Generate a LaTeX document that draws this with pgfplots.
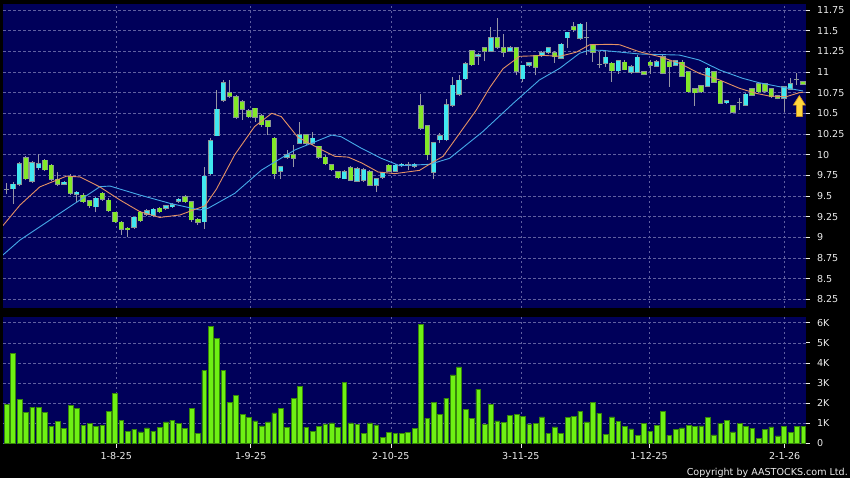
\documentclass[border=0pt]{standalone}
\usepackage{pgfplots}
\pgfplotsset{compat=1.18}
\usepackage{pgfplotstable}
\usepackage{fontspec}
\setmainfont{DejaVu Sans}

\definecolor{panelbg}{RGB}{0,0,90}
\definecolor{gridc}{RGB}{95,95,160}
\definecolor{upc}{RGB}{64,232,240}
\definecolor{dnc}{RGB}{130,232,40}
\definecolor{edgec}{RGB}{140,150,150}
\definecolor{wickc}{RGB}{150,150,165}
\definecolor{volc}{RGB}{110,240,20}
\definecolor{voledge}{RGB}{55,135,10}
\definecolor{maorange}{RGB}{228,145,100}
\definecolor{mablue}{RGB}{70,170,232}
\definecolor{labelc}{RGB}{235,235,235}
\definecolor{arrowy}{RGB}{255,215,60}
\definecolor{arrowo}{RGB}{215,150,30}

% daily candles: index, open, high, low, close
\pgfplotstableread{
i o h l c
0 9.58 9.66 9.52 9.58
1 9.59 9.67 9.40 9.64
2 9.64 9.91 9.62 9.89
3 9.96 9.98 9.69 9.71
4 9.68 9.92 9.66 9.90
5 9.84 10.01 9.82 9.89
6 9.93 9.95 9.80 9.82
7 9.87 9.89 9.68 9.70
8 9.70 9.79 9.62 9.64
9 9.64 9.68 9.63 9.665
10 9.74 9.76 9.51 9.53
11 9.52 9.56 9.43 9.545
12 9.51 9.53 9.41 9.43
13 9.44 9.45 9.36 9.38
14 9.37 9.49 9.30 9.47
15 9.53 9.55 9.44 9.46
16 9.45 9.47 9.30 9.32
17 9.30 9.31 9.17 9.19
18 9.18 9.20 9.03 9.10
19 9.11 9.12 9.00 9.09
20 9.12 9.25 9.10 9.24
21 9.30 9.32 9.18 9.20
22 9.28 9.34 9.26 9.32
23 9.26 9.35 9.24 9.34
24 9.35 9.37 9.29 9.31
25 9.35 9.39 9.33 9.38
26 9.37 9.41 9.36 9.39
27 9.435 9.48 9.42 9.46
28 9.49 9.51 9.41 9.43
29 9.43 9.44 9.19 9.21
30 9.22 9.23 9.15 9.18
31 9.19 9.85 9.10 9.74
32 9.77 10.20 9.75 10.165
33 10.23 10.78 10.22 10.55
34 10.66 10.90 10.64 10.87
35 10.75 10.90 10.69 10.71
36 10.70 10.72 10.43 10.45
37 10.64 10.66 10.42 10.55
38 10.53 10.55 10.44 10.46
39 10.56 10.57 10.40 10.45
40 10.47 10.49 10.34 10.36
41 10.41 10.42 10.24 10.34
42 10.20 10.21 9.71 9.77
43 9.80 9.86 9.71 9.85
44 9.97 10.06 9.95 10.00
45 10.00 10.12 9.85 9.955
46 10.14 10.40 10.13 10.24
47 10.24 10.25 10.12 10.14
48 10.14 10.28 10.12 10.20
49 10.10 10.11 9.95 9.97
50 9.97 9.99 9.87 9.89
51 9.88 9.89 9.80 9.82
52 9.79 9.80 9.70 9.72
53 9.71 9.81 9.70 9.79
54 9.84 9.86 9.68 9.69
55 9.68 9.85 9.67 9.83
56 9.69 9.84 9.67 9.82
57 9.79 9.81 9.62 9.63
58 9.63 9.72 9.55 9.71
59 9.73 9.79 9.71 9.78
60 9.87 9.89 9.79 9.80
61 9.80 9.89 9.79 9.87
62 9.865 9.90 9.85 9.885
63 9.874 9.914 9.814 9.874
64 9.86 9.90 9.84 9.883
65 10.59 10.73 10.30 10.32
66 10.35 10.36 9.935 10.00
67 9.79 10.15 9.71 10.14
68 10.18 10.26 10.14 10.23
69 10.18 10.67 10.16 10.60
70 10.60 10.94 10.58 10.84
71 10.73 10.96 10.71 10.90
72 10.92 11.12 10.90 11.10
73 11.26 11.27 11.07 11.09
74 11.19 11.23 11.09 11.21
75 11.29 11.30 11.13 11.25
76 11.25 11.55 11.24 11.415
77 11.415 11.65 11.28 11.30
78 11.29 11.46 11.185 11.24
79 11.254 11.31 11.24 11.294
80 11.29 11.30 10.96 11.01
81 10.92 11.09 10.88 11.08
82 11.08 11.12 11.06 11.11
83 11.20 11.21 10.96 11.06
84 11.20 11.25 11.18 11.23
85 11.24 11.30 11.22 11.29
86 11.233 11.25 11.11 11.185
87 11.17 11.35 11.16 11.335
88 11.415 11.49 11.29 11.48
89 11.55 11.60 11.49 11.51
90 11.41 11.59 11.39 11.58
91 11.415 11.60 11.21 11.415
92 11.33 11.34 11.12 11.24
93 11.093 11.245 11.045 11.093
94 11.105 11.27 11.06 11.18
95 11.105 11.12 10.88 11.015
96 11.015 11.15 10.98 11.137
97 11.12 11.14 11.02 11.03
98 11.00 11.08 10.98 11.06
99 11.00 11.205 10.99 11.18
100 11.00 11.01 10.96 10.97
101 11.12 11.14 10.98 11.08
102 11.072 11.14 11.06 11.124
103 11.185 11.20 10.97 10.984
104 11.124 11.14 10.82 11.064
105 11.084 11.15 11.07 11.137
106 11.12 11.14 10.94 10.95
107 11.00 11.01 10.75 10.76
108 10.80 10.81 10.59 10.75
109 10.83 10.84 10.75 10.76
110 10.83 11.064 10.82 11.045
111 11.00 11.01 10.87 10.88
112 10.89 10.90 10.61 10.62
113 10.628 10.66 10.61 10.649
114 10.59 10.60 10.50 10.51
115 10.628 10.681 10.54 10.628
116 10.60 10.74 10.59 10.73
117 10.80 10.81 10.71 10.72
118 10.855 10.87 10.75 10.76
119 10.86 10.87 10.75 10.765
120 10.80 10.81 10.69 10.70
121 10.71 10.72 10.67 10.68
122 10.68 10.83 10.52 10.82
123 10.79 10.924 10.78 10.855
124 10.911 10.984 10.842 10.911
125 10.88 10.89 10.84 10.85
}\candles

% turnover, thousands
\pgfplotstableread{
i v
0 1.92
1 4.47
2 2.2
3 1.53
4 1.8
5 1.8
6 1.53
7 0.83
8 1.08
9 0.73
10 1.87
11 1.72
12 0.9
13 1.0
14 0.85
15 0.88
16 1.57
17 2.47
18 1.13
19 0.6
20 0.7
21 0.57
22 0.77
23 0.6
24 0.78
25 1.07
26 1.15
27 0.98
28 0.73
29 1.72
30 0.5
31 3.62
32 5.8
33 5.22
34 3.62
35 2.03
36 2.38
37 1.45
38 1.3
39 1.12
40 0.87
41 1.07
42 1.52
43 1.75
44 0.78
45 2.25
46 2.83
47 0.8
48 0.58
49 0.85
50 0.97
51 1.02
52 0.78
53 3.03
54 1.02
55 0.95
56 0.5
57 1.02
58 0.92
59 0.3
60 0.55
61 0.48
62 0.5
63 0.55
64 0.75
65 5.9
66 1.25
67 2.05
68 1.45
69 2.25
70 3.4
71 3.8
72 1.7
73 1.25
74 2.7
75 0.95
76 1.95
77 1.12
78 1.03
79 1.4
80 1.43
81 1.33
82 0.97
83 1.0
84 1.32
85 0.5
86 0.82
87 0.48
88 1.3
89 1.33
90 1.6
91 1.07
92 2.02
93 1.5
94 0.43
95 1.32
96 1.1
97 0.83
98 0.72
99 0.4
100 0.98
101 0.6
102 0.88
103 1.58
104 0.4
105 0.68
106 0.77
107 0.9
108 0.85
109 0.87
110 1.28
111 0.42
112 1.0
113 1.13
114 0.57
115 1.0
116 0.85
117 0.75
118 0.23
119 0.68
120 0.82
121 0.37
122 0.85
123 0.53
124 0.85
125 0.85
}\volumes

% 10-day average (orange)
\pgfplotstableread{
x y
-0.6 9.14
2.09 9.39
5.2 9.61
9.4 9.74
11.5 9.73
14.6 9.61
17.8 9.45
20.9 9.31
24.0 9.24
27.2 9.27
29.3 9.33
31.1 9.38
32.9 9.58
35.8 10.00
38.9 10.34
41.6 10.50
43.1 10.46
45.7 10.21
49.4 10.06
51.5 9.98
53.6 9.97
55.7 9.90
58.3 9.79
60.9 9.77
64.8 9.81
66.9 9.91
68.5 9.98
71.1 10.26
73.7 10.54
75.8 10.81
77.9 11.04
80.5 11.19
84.4 11.20
86.8 11.19
89.4 11.24
91.5 11.33
94.6 11.335
96.2 11.33
99.3 11.245
102.5 11.185
105.6 11.105
108.7 10.984
111.9 10.903
115.0 10.803
117.6 10.742
119.7 10.709
122.3 10.70
124.4 10.75
125 10.755
}\maten

% 20-day average (blue)
\pgfplotstableread{
x y
-0.6 8.785
2.09 8.967
8.36 9.29
14.63 9.612
16.2 9.62
20.9 9.511
25.6 9.411
30.3 9.33
31.6 9.35
35.8 9.532
40.0 9.814
45.2 10.056
48.4 10.156
51.0 10.237
52.5 10.217
55.7 10.076
58.8 9.955
61.7 9.866
66.4 9.883
69.5 9.955
74.7 10.277
79.5 10.621
83.6 10.903
86.8 11.045
89.9 11.226
91.5 11.266
93.5 11.262
99.3 11.218
105.6 11.205
108.7 11.145
111.9 11.024
115.5 10.924
118.1 10.87
121.3 10.822
125 10.77
}\matwenty

\pgfplotsset{
  chartpanel/.style={
    scale only axis, width=803bp,
    xmin=-0.58, xmax=125.45,
    axis background/.style={fill=panelbg},
    axis line style={draw=none},
    xtick={17.2,38.3,60.3,80.7,100.8,122.1},
    grid=major,
    major grid style={draw=gridc, line width=0.6bp, dash pattern=on 2.5bp off 2.5bp},
    ytick pos=right, yticklabel pos=right,
    tick align=outside, major tick length=3.5bp,
    tick style={draw=labelc, line width=0.7bp},
    tick label style={font=\fontsize{9.6}{11}\selectfont, text=labelc},
    yticklabel style={anchor=west, xshift=4bp},
    /pgf/number format/assume math mode=true,
  },
  candlebar/.style={draw=none, mark=none, forget plot,
    error bars/.cd, y dir=plus, y explicit, error mark=none,
    error bar style={#1}},
}

\begin{document}
\begin{tikzpicture}
\path[fill=black, use as bounding box] (0,0) rectangle (850bp,-478bp);

% price panel
\begin{axis}[chartpanel, at={(3bp,-4bp)}, anchor=north west, height=304bp,
  ymin=8.144, ymax=11.823,
  ytick={8.25,8.5,8.75,9,9.25,9.5,9.75,10,10.25,10.5,10.75,11,11.25,11.5,11.75},
  yticklabels={8.25,8.5,8.75,9,9.25,9.5,9.75,10,10.25,10.5,10.75,11,11.25,11.5,11.75},
  xticklabels={}, xtick style={draw=none}]

% wicks
\addplot[candlebar={draw=wickc, line width=1bp}]
  table[x=i, y=l, y error plus expr={\thisrow{h}-\thisrow{l}}] {\candles};
% body outlines
\addplot[candlebar={draw=edgec, line width=5.4bp}]
  table[x=i, y expr={min(\thisrow{o},\thisrow{c})-0.007},
        y error plus expr={abs(\thisrow{c}-\thisrow{o})+0.014}] {\candles};
% rising bodies
\addplot[candlebar={draw=upc, line width=4bp}]
  table[x=i, y=o, y error plus expr={max(\thisrow{c}-\thisrow{o},0)}] {\candles};
% falling bodies
\addplot[candlebar={draw=dnc, line width=4bp}]
  table[x=i, y=c, y error plus expr={max(\thisrow{o}-\thisrow{c},0)}] {\candles};

\addplot[mablue, line width=0.9bp, mark=none] table[x=x, y=y] {\matwenty};
\addplot[maorange, line width=0.9bp, mark=none] table[x=x, y=y] {\maten};

% arrow marker at the latest bar
\draw[fill=arrowy, draw=arrowo, line width=0.6bp]
  (axis cs:124.4,10.715) -- (axis cs:125.35,10.60) -- (axis cs:124.87,10.60)
  -- (axis cs:124.87,10.46) -- (axis cs:123.93,10.46) -- (axis cs:123.93,10.60)
  -- (axis cs:123.45,10.60) -- cycle;
\end{axis}

% turnover panel
\begin{axis}[chartpanel, at={(3bp,-317bp)}, anchor=north west, height=127bp,
  ymin=-0.035, ymax=6.284,
  ytick={0,1,2,3,4,5,6}, yticklabels={0,1K,2K,3K,4K,5K,6K},
  xtick pos=bottom,
  xticklabels={1-8-25,1-9-25,2-10-25,3-11-25,1-12-25,2-1-26},
  xticklabel style={yshift=-1bp}]
\addplot[ybar, bar width=0.74, fill=volc, draw=voledge, line width=0.5bp]
  table[x=i, y=v] {\volumes};
\end{axis}

\node[anchor=base east, text=labelc, font=\fontsize{9.6}{11}\selectfont, inner sep=0]
  at (848bp,-475bp) {Copyright by AASTOCKS.com Ltd.};
\end{tikzpicture}
\end{document}
